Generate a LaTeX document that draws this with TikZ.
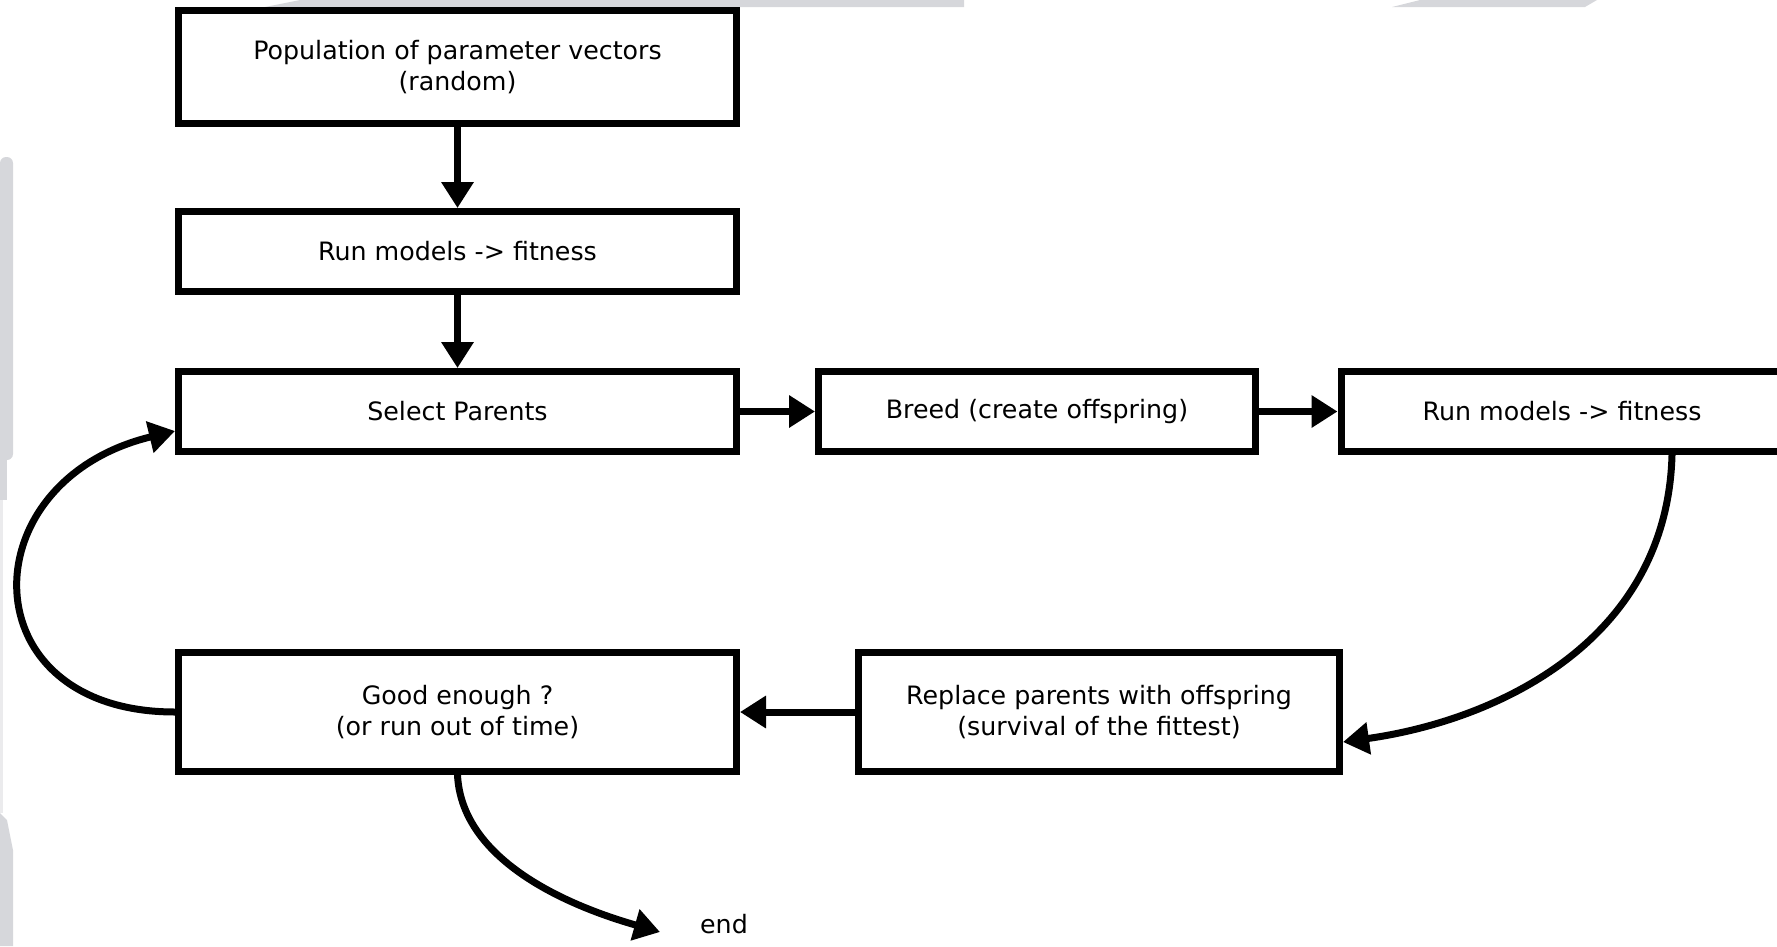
\documentclass[tikz,border=0pt]{standalone}
\usepackage{fontspec}
\setmainfont{DejaVu Sans}
\usetikzlibrary{
	arrows.meta
}
\tikzset{
	every picture/.style={
		line width=.7mm,
		text=black,
		draw=black,
	},
}
\definecolor{band}{RGB}{214,215,219}
\tikzstyle{lbl} = [
	inner sep=0mm,
	font=\fontsize{7.2pt}{8.9pt}\selectfont
]
\tikzstyle{box} = [
	lbl,
	draw,
	rectangle,
	align=center
]
\tikzstyle{arr} = [-{Triangle[length=2.6mm, width=3.1mm]}]

\begin{document}
\begin{tikzpicture}[x=.1mm, y=-.1mm]
	\useasboundingbox (0,0) rectangle (1777,946);

	% faint grey bands along the edges
	\fill[band] (265,7) -- (300,0) -- (964,0) -- (964,7) -- cycle;
	\fill[band] (1392,7) -- (1420,0) -- (1597,0) -- (1585,7) -- cycle;
	\fill[band, rounded corners=.6mm] (0,157) rectangle (13,460);
	\fill[band] (0,455) rectangle (7,500);
	\fill[band!50!white] (0,500) rectangle (3,813);
	\fill[band] (0,946) -- (0,813) -- (7,820) -- (13,850) -- (13,946) -- cycle;

	\node[box, minimum width=55.8mm, minimum height=11.3mm] (pop) at (457.5,67) {Population of parameter vectors\\(random)};
	\node[box, minimum width=55.8mm, minimum height=8mm] (run1) at (457.5,251.5) {Run models -> fitness};
	\node[box, minimum width=55.8mm, minimum height=8mm] (select) at (457.5,411.5) {Select Parents};
	\node[box, minimum width=43.7mm, minimum height=8mm] (breed) at (1037,411.5) {Breed (create offspring)};
	\node[box, minimum width=44.2mm, minimum height=8mm] (run2) at (1562,411.5) {Run models -> fitness};
	\node[box, minimum width=55.8mm, minimum height=11.9mm] (good) at (457.5,712) {Good enough ?\\(or run out of time)};
	\node[box, minimum width=48.1mm, minimum height=11.9mm] (replace) at (1099,712) {Replace parents with offspring\\(survival of the fittest)};
	\node[lbl] (stop) at (724,924) {end};
	\coordinate (tip) at (660,932);

	\foreach \a/\b in {pop/run1, run1/select, select/breed, breed/run2, replace/good}
		\draw[arr] (\a) -- (\b);

	% curved connectors
	\draw[arr] (good.west) .. controls +(-207,0) and +(-207,50) .. ([yshift=-1.95mm]select.west);
	\draw[arr] ([xshift=11mm]run2.south) .. controls +(-5,185) and +(156,-22) .. ([yshift=-3mm]replace.east);
	\draw[arr] (good.south) .. controls +(4,80) and +(-105,-30) .. (tip);
\end{tikzpicture}
\end{document}
